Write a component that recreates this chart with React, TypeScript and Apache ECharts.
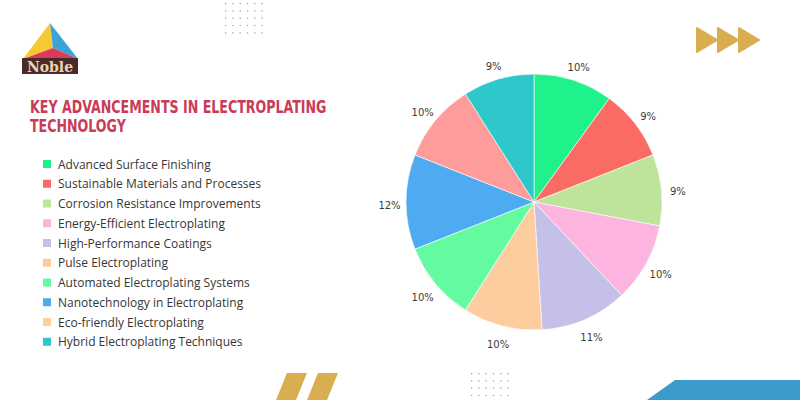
import React, { useEffect, useRef } from "react";
import * as echarts from "echarts";

const categories = [
  "Advanced Surface Finishing",
  "Sustainable Materials and Processes",
  "Corrosion Resistance Improvements",
  "Energy-Efficient Electroplating",
  "High-Performance Coatings",
  "Pulse Electroplating",
  "Automated Electroplating Systems",
  "Nanotechnology in Electroplating",
  "Eco-friendly Electroplating",
  "Hybrid Electroplating Techniques",
];
const values = [10, 9, 9, 10, 11, 10, 10, 12, 10, 9];
const sliceColors = [
  "#1FF28B", "#FA6B63", "#BEE39A", "#FDB4DE", "#C4C0E8",
  "#FECD9F", "#63FAA0", "#4EABF2", "#FE9C9B", "#2EC8CB",
];
const legendColors = [
  "#1FF28B", "#FA6B63", "#BEE39A", "#FDB4DE", "#C4C0E8",
  "#FECD9F", "#63FAA0", "#4EABF2", "#FECD9F", "#2EC8CB",
];
const titleLines = ["KEY ADVANCEMENTS IN ELECTROPLATING", "TECHNOLOGY"];

function dotGrid(x0: number, y0: number, cols: number, rows: number, step: number) {
  const out: any[] = [];
  for (let i = 0; i < cols; i++) {
    for (let j = 0; j < rows; j++) {
      out.push({
        type: "rect",
        shape: { x: x0 + i * step, y: y0 + j * step, width: 1.2, height: 1.2 },
        style: { fill: "#9a9a9a" },
        silent: true,
      });
    }
  }
  return out;
}

export default function App() {
  const ref = useRef<HTMLDivElement>(null);
  useEffect(() => {
    if (!ref.current) return;
    const chart = echarts.init(ref.current, undefined, { renderer: "svg" });
    const gold = "#D8AE50";
    const data = categories.map((name, i) => ({
      name,
      value: values[i],
      itemStyle: { color: sliceColors[i] },
    }));
    chart.setOption({
      animation: false,
      backgroundColor: "#ffffff",
      legend: {
        orient: "vertical",
        left: 36,
        top: 153,
        itemWidth: 10,
        itemHeight: 10,
        itemGap: 7.75,
        icon: "rect",
        selectedMode: false,
        textStyle: {
          fontFamily: "'Open Sans', sans-serif",
          fontSize: 12,
          color: "#363636",
          padding: [0, 0, 0, 1],
        },
        data: categories.map((name, i) => ({
          name,
          itemStyle: { color: legendColors[i] },
        })),
      },
      series: [
        {
          type: "pie",
          center: [534, 202],
          radius: [0, 128],
          startAngle: 90,
          clockwise: true,
          label: { show: false },
          labelLine: { show: false },
          itemStyle: { borderColor: "#ffffff", borderWidth: 0.6 },
          data,
        },
        {
          type: "pie",
          center: [534, 205],
          radius: [130, 153],
          startAngle: 90,
          clockwise: true,
          silent: true,
          itemStyle: { color: "rgba(0,0,0,0)" },
          label: {
            show: true,
            position: "inside",
            formatter: "{c}%",
            fontFamily: "'DejaVu Sans', sans-serif",
            fontSize: 10,
            color: "#3c3c3c",
          },
          labelLine: { show: false },
          data: categories.map((name, i) => ({ name: name + " ", value: values[i] })),
        },
      ],
      graphic: [
        // logo
        {
          type: "polygon",
          shape: { points: [[50, 23], [23, 59], [53, 48]] },
          style: { fill: "#F6C933" },
          silent: true,
        },
        {
          type: "polygon",
          shape: { points: [[50, 23], [53, 48], [78, 59]] },
          style: { fill: "#3BA3D7" },
          silent: true,
        },
        {
          type: "polygon",
          shape: { points: [[23, 59], [53, 48], [78, 59]] },
          style: { fill: "#DB3A58" },
          silent: true,
        },
        {
          type: "rect",
          shape: { x: 22, y: 58, width: 56, height: 16 },
          style: { fill: "#4A2B27" },
          silent: true,
        },
        {
          type: "text",
          x: 50,
          y: 66.5,
          style: {
            text: "Noble",
            fill: "#EAD4B4",
            font: "bold 14px 'DejaVu Serif', serif",
            align: "center",
            verticalAlign: "middle",
          },
          silent: true,
        },
        // title
        {
          type: "group",
          x: 30,
          y: 98,
          scaleX: 0.78,
          children: titleLines.map((t, i) => ({
            type: "text",
            x: 0,
            y: i * 19,
            style: {
              text: t,
              fill: "#C93B57",
              font: "bold 18px 'Liberation Sans Narrow', 'DejaVu Sans Condensed', sans-serif",
              verticalAlign: "top",
            },
          })),
          silent: true,
        },
        // dot grids
        ...dotGrid(225, 3, 6, 5, 7.3),
        ...dotGrid(471, 373, 6, 4, 7.3),
        // gold triangles
        ...[697, 718, 739].map((x) => ({
          type: "polygon",
          shape: { points: [[x, 28], [x + 20, 40], [x, 52]] },
          style: { fill: gold, stroke: gold, lineWidth: 2, lineJoin: "round" },
          silent: true,
        })),
        // gold slashes
        ...[0, 31].map((dx) => ({
          type: "polygon",
          shape: {
            points: [
              [287 + dx, 373],
              [307 + dx, 373],
              [296 + dx, 400],
              [276 + dx, 400],
            ],
          },
          style: { fill: gold },
          silent: true,
        })),
        // blue band
        {
          type: "polygon",
          shape: { points: [[647, 400], [675, 380], [800, 380], [800, 400]] },
          style: { fill: "#3A9BCA" },
          silent: true,
        },
      ],
    });
    return () => chart.dispose();
  }, []);
  return (
    <div
      ref={ref}
      style={{ position: "fixed", left: 0, top: 0, width: 800, height: 400, background: "#fff" }}
    />
  );
}
